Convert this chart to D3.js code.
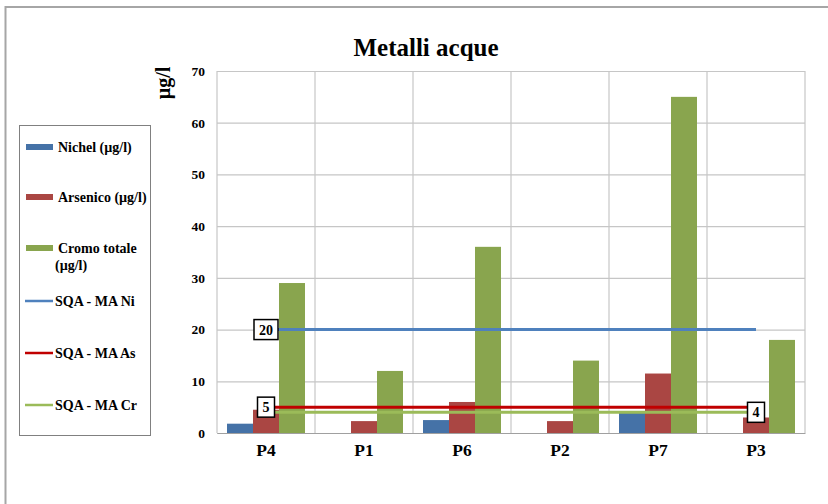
<!DOCTYPE html>
<html>
<head>
<meta charset="utf-8">
<script src="https://cdn.jsdelivr.net/npm/d3@7"></script>
<style>
  html, body { margin: 0; padding: 0; background: #fff; }
  svg { display: block; font-family: "Liberation Serif", "Times New Roman", serif; }
</style>
</head>
<body>
<svg id="chart" width="828" height="504"></svg>
<script>
// Sampling points and measured concentrations (µg/l)
const categories = ["P4", "P1", "P6", "P2", "P7", "P3"];
const nichel   = [1.8, 0, 2.5, 0, 4, 0];
const arsenico = [4.5, 2.3, 6, 2.3, 11.5, 3];
const cromo    = [29, 12, 36, 14, 65, 18];

// Quality standards (SQA - MA) drawn as reference lines
const sqaNi = [20, 20, 20, 20, 20, 20];
const sqaAs = [5, 5, 5, 5, 5, 5];
const sqaCr = [4, 4, 4, 4, 4, 4];

const yTicks = [0, 10, 20, 30, 40, 50, 60, 70];

const barSeries = [
  { name: "Nichel (µg/l)", values: nichel, color: "#4572A7" },
  { name: "Arsenico (µg/l)", values: arsenico, color: "#AA4643" },
  { name: "Cromo totale (µg/l)", values: cromo, color: "#89A54E" }
];
const lineSeries = [
  { name: "SQA - MA Ni", values: sqaNi, color: "#4F81BD", labelAt: 0 },
  { name: "SQA - MA As", values: sqaAs, color: "#C00000", labelAt: 0 },
  { name: "SQA - MA Cr", values: sqaCr, color: "#9BBB59", labelAt: 5 }
];

const svg = d3.select("#chart");

// Outer chart frame
svg.append("rect")
  .attr("x", 5.5).attr("y", 7).attr("width", 840).attr("height", 520)
  .attr("fill", "none").attr("stroke", "#a6a6a6").attr("stroke-width", 2);

const plot = { left: 217, right: 805, top: 71, bottom: 433 };

const x0 = d3.scaleBand().domain(categories).range([plot.left, plot.right]).padding(0);
const x1 = d3.scaleBand().domain(barSeries.map(d => d.name))
  .range([0, x0.bandwidth()]).paddingInner(0).paddingOuter(0.385);
const y = d3.scaleLinear().domain([0, 70]).range([plot.bottom, plot.top]);

// Horizontal gridlines and y tick labels
const yAxis = d3.axisLeft(y).tickValues(yTicks)
  .tickSize(-(plot.right - plot.left)).tickPadding(12);
const gy = svg.append("g").attr("transform", `translate(${plot.left},0)`).call(yAxis);
gy.select(".domain").remove();
gy.selectAll(".tick line").attr("stroke", "#c6c6c6").attr("stroke-width", 1.2);
gy.selectAll(".tick text")
  .attr("font-family", "Liberation Serif, serif")
  .attr("font-weight", "bold").attr("font-size", 13.5).attr("fill", "#000");

// Vertical gridlines at category boundaries
const bounds = categories.map(c => x0(c)).concat([plot.right]);
svg.append("g").selectAll("line").data(bounds).join("line")
  .attr("x1", d => d).attr("x2", d => d)
  .attr("y1", plot.top).attr("y2", plot.bottom)
  .attr("stroke", "#c6c6c6").attr("stroke-width", 1.2);

// Category axis labels
const xAxis = d3.axisBottom(x0).tickSize(0).tickPadding(11);
const gx = svg.append("g").attr("transform", `translate(0,${plot.bottom})`).call(xAxis);
gx.select(".domain").attr("stroke", "#a0a0a0");
gx.selectAll(".tick text")
  .attr("font-family", "Liberation Serif, serif")
  .attr("font-weight", "bold").attr("font-size", 17.5).attr("fill", "#000");

// Bars
const groups = svg.append("g").selectAll("g").data(categories).join("g")
  .attr("transform", c => `translate(${x0(c)},0)`);
groups.selectAll("rect")
  .data((c, i) => barSeries.map(s => ({ s, v: s.values[i] })))
  .join("rect")
  .attr("x", d => x1(d.s.name))
  .attr("width", x1.bandwidth())
  .attr("y", d => y(d.v))
  .attr("height", d => y(0) - y(d.v))
  .attr("fill", d => d.s.color);

// Standard lines through category centres
const cx = c => x0(c) + x0.bandwidth() / 2;
const line = d3.line().x((d, i) => cx(categories[i])).y(d => y(d));
lineSeries.forEach(s => {
  svg.append("path").datum(s.values)
    .attr("d", line).attr("fill", "none")
    .attr("stroke", s.color).attr("stroke-width", 3);
});

// Value labels on the standard lines
lineSeries.forEach(s => {
  const i = s.labelAt;
  const px = cx(categories[i]);
  const py = y(s.values[i]);
  const txt = String(s.values[i]);
  const w = txt.length > 1 ? 24 : 17;
  const g = svg.append("g").attr("transform", `translate(${px},${py})`);
  g.append("rect").attr("x", -w / 2).attr("y", -10).attr("width", w).attr("height", 20)
    .attr("fill", "#fff").attr("stroke", "#000").attr("stroke-width", 1.5);
  g.append("text").attr("text-anchor", "middle").attr("dy", "0.36em")
    .attr("font-weight", "bold").attr("font-size", 14).text(txt);
});

// Title and y axis title
svg.append("text").attr("x", 426).attr("y", 56).attr("text-anchor", "middle")
  .attr("font-weight", "bold").attr("font-size", 25).text("Metalli acque");
svg.append("text")
  .attr("transform", "translate(170,83) rotate(-90)")
  .attr("text-anchor", "middle")
  .attr("font-weight", "bold").attr("font-size", 20).text("µg/l");

// Legend
const legend = svg.append("g");
legend.append("rect").attr("x", 19.5).attr("y", 125.5).attr("width", 131).attr("height", 310)
  .attr("fill", "#fff").attr("stroke", "#808080").attr("stroke-width", 1);

const legendItems = [
  { lines: ["Nichel (µg/l)"], color: barSeries[0].color, type: "bar", y: 147 },
  { lines: ["Arsenico (µg/l)"], color: barSeries[1].color, type: "bar", y: 197 },
  { lines: ["Cromo totale", "(µg/l)"], color: barSeries[2].color, type: "bar", y: 248 },
  { lines: ["SQA - MA Ni"], color: lineSeries[0].color, type: "line", y: 301 },
  { lines: ["SQA - MA As"], color: lineSeries[1].color, type: "line", y: 353 },
  { lines: ["SQA - MA Cr"], color: lineSeries[2].color, type: "line", y: 405 }
];
legendItems.forEach(it => {
  if (it.type === "bar") {
    legend.append("rect").attr("x", 26).attr("y", it.y - 3).attr("width", 27).attr("height", 6)
      .attr("fill", it.color);
  } else {
    legend.append("line").attr("x1", 25).attr("x2", 53).attr("y1", it.y).attr("y2", it.y)
      .attr("stroke", it.color).attr("stroke-width", 2.5);
  }
  const t = legend.append("text").attr("font-weight", "bold").attr("font-size", 14)
    .attr("y", it.y);
  it.lines.forEach((ln, k) => {
    t.append("tspan").attr("x", it.type === "bar" ? (k === 0 ? 58 : 55) : 55)
      .attr("dy", k === 0 ? "0.35em" : "1.25em").text(ln);
  });
});
</script>
</body>
</html>
